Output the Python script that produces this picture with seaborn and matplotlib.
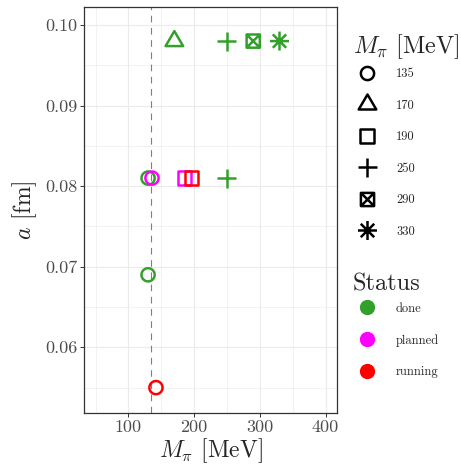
import numpy as np
import pandas as pd
import matplotlib
matplotlib.use("Agg")
import matplotlib.pyplot as plt
from matplotlib.path import Path
from matplotlib.lines import Line2D
from matplotlib.markers import MarkerStyle
from matplotlib.ticker import FixedLocator
import seaborn as sns

# data
m_pi = [170, 250, 290, 330, 130, 136, 185, 196, 250, 130, 142]
a_fm = [0.098, 0.098, 0.098, 0.098, 0.081, 0.081, 0.081, 0.081, 0.081, 0.069, 0.055]
m_nominal = ['170', '250', '290', '330', '135', '135', '190', '190', '250', '135', '135']
status = ['done', 'done', 'done', 'done', 'done', 'planned', 'planned', 'running',
          'done', 'done', 'running']

shape_levels = ['135', '170', '190', '250', '290', '330']
status_levels = ['done', 'planned', 'running']
status_colors = ['#33a02c', '#ff00ff', '#ff0000']
physical_m_pi = 135

x_ticks = [100, 200, 300, 400]
x_labels = ['100', '200', '300', '400']
y_ticks = [0.06, 0.07, 0.08, 0.09, 0.10]
y_labels = ['0.06', '0.07', '0.08', '0.09', '0.10']

sns.set_style("ticks")
plt.rcParams['font.family'] = ['cmr10']
plt.rcParams['mathtext.fontset'] = 'cm'
plt.rcParams['axes.formatter.use_mathtext'] = True


def make_path(lines, closed):
    # stray moveto at (1, 0) keeps the relative marker sizes (ggplot-like shapes)
    verts = [(1.0, 0.0)]
    codes = [Path.MOVETO]
    for pts, cl in zip(lines, closed):
        verts += list(pts)
        codes += [Path.MOVETO] + [Path.LINETO] * (len(pts) - 1)
        if cl:
            verts.append(pts[0])
            codes.append(Path.CLOSEPOLY)
    return Path(verts, codes)


t = np.linspace(0, 2 * np.pi, 49)[:-1]
circle = make_path([list(zip(0.66 * np.cos(t), 0.66 * np.sin(t)))], [True])
triangle = make_path([[(-0.88, -0.5), (0.88, -0.5), (0.0, 1.0)]], [True])
square = make_path([[(-0.66, -0.66), (0.66, -0.66), (0.66, 0.66), (-0.66, 0.66)]], [True])
plus = make_path([[(-0.95, 0), (0.95, 0)], [(0, -0.95), (0, 0.95)]], [False, False])
boxx = make_path([[(-0.66, -0.66), (0.66, -0.66), (0.66, 0.66), (-0.66, 0.66)],
                  [(-0.66, -0.66), (0.66, 0.66)], [(-0.66, 0.66), (0.66, -0.66)]],
                 [True, False, False])
d = 0.95 * 0.7071
aster = make_path([[(-0.95, 0), (0.95, 0)], [(0, -0.95), (0, 0.95)],
                   [(-d, -d), (d, d)], [(-d, d), (d, -d)]], [False] * 4)
shape_paths = [circle, triangle, square, plus, boxx, aster]

df = pd.DataFrame({'m_pi': m_pi, 'a': a_fm, 'shape': m_nominal, 'status': status})

fig = plt.figure(figsize=(4.61, 4.71), dpi=100)
ax = fig.add_axes([84 / 461, 58 / 471, 253 / 461, 406 / 471])

ax.axvline(physical_m_pi, color='#7f7f7f', lw=0.8, ls=(0, (6, 5)), zorder=1)

sns.scatterplot(data=df, x='m_pi', y='a', hue='status', style='shape',
                hue_order=status_levels, style_order=shape_levels,
                palette=dict(zip(status_levels, status_colors)),
                markers=dict(zip(shape_levels, shape_paths)),
                s=207, legend=False, ax=ax, zorder=3)
coll = ax.collections[-1]
coll.set_edgecolors(coll.get_facecolors())
coll.set_facecolors('none')
coll.set_linewidths(1.8)

ax.set_xlim(32.5, 417.5)
ax.set_ylim(0.05185, 0.10223)
ax.set_xticks(x_ticks, labels=x_labels)
ax.set_yticks(y_ticks, labels=y_labels)
ax.xaxis.set_minor_locator(FixedLocator([50, 150, 250, 350]))
ax.yaxis.set_minor_locator(FixedLocator([0.055, 0.065, 0.075, 0.085, 0.095]))
ax.grid(which='major', color='#ebebeb', lw=0.8)
ax.grid(which='minor', color='#ebebeb', lw=0.45)
ax.set_axisbelow(True)
ax.tick_params(which='major', length=3, width=0.7, color='#333333',
               labelsize=13, labelcolor='#4d4d4d', pad=2)
ax.tick_params(which='minor', length=0)
for sp in ax.spines.values():
    sp.set_color('#333333')
    sp.set_linewidth(0.9)

ax.set_xlabel(r'$M_\pi$ [MeV]', fontsize=17, labelpad=1)
ax.set_ylabel(r'$a$ [fm]', fontsize=17, labelpad=4)

# legends
leg_kw = dict(loc='upper left', frameon=False, title_fontsize=17.5, fontsize=9,
              labelspacing=1.55, handlelength=2.2, handletextpad=1.24,
              borderaxespad=0, borderpad=0, alignment='left')
shape_handles = [Line2D([], [], ls='', marker=MarkerStyle(p), ms=14.4, mfc='none',
                        mec='black', mew=1.8) for p in shape_paths]
leg1 = fig.legend(shape_handles, shape_levels, title=r'$M_\pi$ [MeV]',
                  bbox_to_anchor=(353 / 461, 1 - 32 / 471), **leg_kw)
status_handles = [Line2D([], [], ls='', marker='o', ms=10, color=c) for c in status_colors]
leg2 = fig.legend(status_handles, status_levels, title='Status',
                  bbox_to_anchor=(353 / 461, 1 - 273 / 471), **leg_kw)
for leg in (leg1, leg2):
    leg._legend_box.sep = 5.3

fig.savefig('out.png', dpi=100)
